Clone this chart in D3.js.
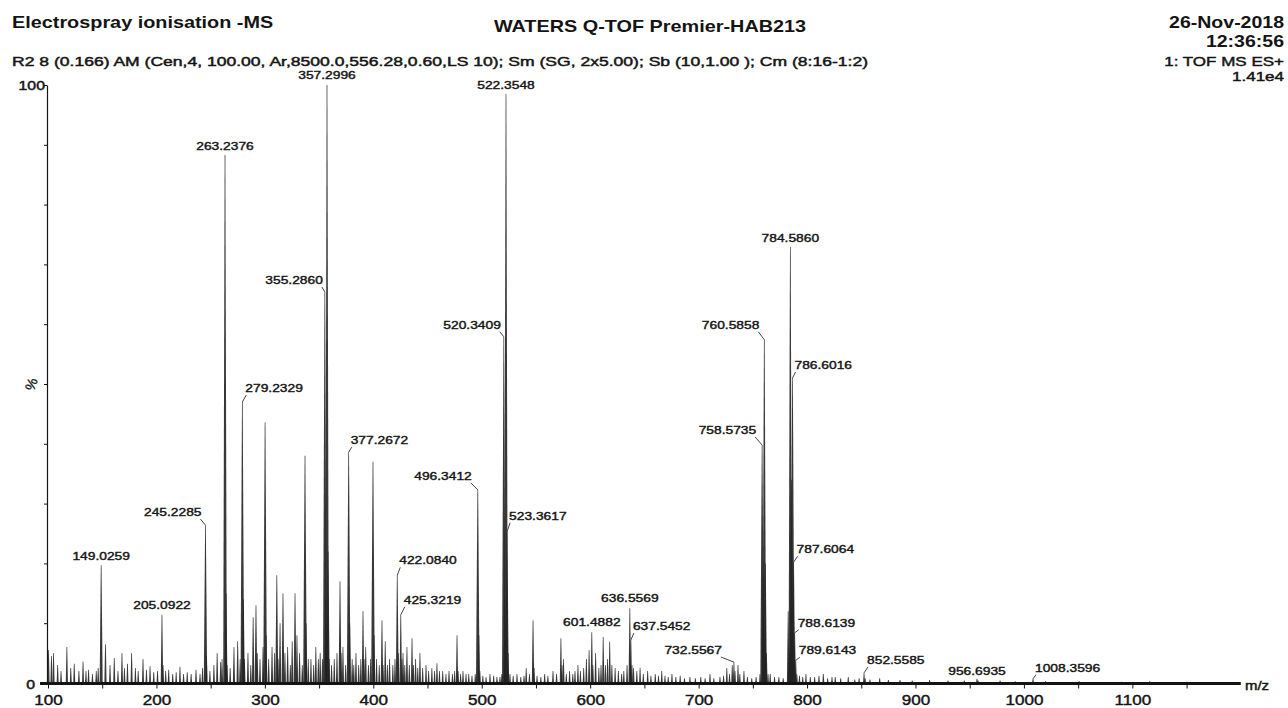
<!DOCTYPE html>
<html>
<head>
<meta charset="utf-8">
<script src="https://cdn.jsdelivr.net/npm/d3@7"></script>
<style>
  html, body { margin: 0; padding: 0; background: #fff; }
  svg { display: block; font-family: "Liberation Sans", Arial, sans-serif; }
</style>
</head>
<body>
<svg id="chart" width="1288" height="708"></svg>
<script>
// ---- Annotated peaks: m/z and relative intensity (%) ----
const labelMz  = [357.2996, 522.3548, 263.2376, 784.5860, 355.2860, 520.3409, 760.5858,
                  786.6016, 279.2329, 377.2672, 758.5735, 496.3412, 523.3617, 245.2285,
                  149.0259, 787.6064, 422.0840, 205.0922, 425.3219, 636.5569, 601.4882,
                  637.5452, 732.5567, 788.6139, 789.6143, 852.5585, 956.6935, 1008.3596];
const labelInt = [100, 98.5, 88.3, 72.9, 65.4, 57.9, 57.4,
                  51.0, 47.0, 38.6, 39.8, 32.3, 25.3, 26.4,
                  19.7, 20.2, 18.0, 11.4, 11.4, 12.5, 8.5,
                  7.2, 3.5, 8.4, 3.8, 1.7, 0.7, 0.7];

// ---- Un-annotated peaks: m/z and relative intensity (%) ----
const peakMz = [
  100.5, 103.2, 105.1, 108.9, 112.0, 117.4, 121.0, 124.2, 128.5, 132.3, 135.0, 137.4, 141.0, 144.5, 146.3,
  153.0, 157.2, 161.1, 164.5, 168.2, 170.5, 173.3, 177.1, 180.6, 183.2, 187.6, 190.8, 194.1, 197.5, 201.0,
  206.1, 208.5, 211.3, 215.0, 218.2, 221.7, 225.0, 228.4, 232.0, 236.5, 240.2, 242.5, 246.23, 249.3, 253.0,
  256.0, 259.2, 260.5, 264.24, 265.2, 268.0, 271.5, 274.9, 277.2, 280.24, 281.2, 284.4, 287.0, 289.2, 291.8,
  293.0, 295.5, 298.3, 300.2, 301.2, 303.5, 306.6, 309.0, 311.0, 312.2, 314.0, 316.7, 318.5, 321.0, 323.5,
  325.2, 327.8, 329.6, 332.0, 334.5, 337.0, 338.0, 340.0, 342.5, 345.0, 347.0, 349.3, 351.0, 353.1, 356.29,
  358.30, 359.3, 361.5, 364.0, 366.5, 369.3, 370.3, 372.0, 374.5, 378.28, 380.5, 382.0, 384.0, 386.5, 388.5,
  390.5, 391.5, 393.0, 395.5, 397.5, 399.7, 400.7, 403.0, 405.5, 408.0, 409.0, 411.0, 413.0, 415.0, 418.0,
  420.0, 423.09, 426.3, 427.4, 429.0, 431.0, 433.2, 435.7, 437.0, 439.0, 441.0, 443.0, 445.5, 448.6, 451.0,
  454.0, 456.5, 458.7, 461.0, 464.0, 467.0, 469.8, 473.0, 475.0, 477.2, 478.2, 480.5, 482.7, 485.5, 488.0,
  491.0, 494.0, 497.34, 498.3, 501.0, 504.0, 507.6, 511.0, 514.0, 516.8, 518.5, 521.34, 524.36, 526.0, 529.0,
  532.5, 536.0, 539.0, 541.0, 544.0, 547.3, 548.3, 551.0, 554.5, 558.0, 561.0, 565.7, 569.0, 573.0, 574.0,
  575.4, 578.0, 581.0, 584.0, 586.0, 588.7, 591.0, 594.0, 596.5, 599.0, 602.49, 605.0, 608.0, 610.0, 612.0,
  614.0, 616.0, 618.0, 620.0, 623.0, 626.0, 629.0, 631.0, 634.0, 638.55, 640.0, 643.0, 646.0, 649.0, 653.0,
  656.0, 660.0, 663.0, 666.0, 669.0, 672.0, 675.4, 679.0, 683.0, 687.0, 692.0, 697.0, 702.0, 706.0, 710.5,
  714.0, 719.7, 723.0, 726.0, 728.5, 731.0, 733.56, 736.3, 738.0, 741.8, 745.0, 749.0, 753.0, 756.6, 759.58,
  761.59, 762.6, 764.0, 766.0, 770.0, 774.0, 778.0, 782.58, 783.58, 785.59, 790.6, 793.0, 796.0, 799.0, 803.0,
  807.0, 811.0, 815.0, 819.0, 823.0, 826.0, 831.0, 838.0, 844.0, 848.0, 853.56, 858.0, 867.0, 875.0, 885.7,
  897.0, 913.0, 930.0, 945.0, 957.7, 978.0, 992.0, 1020.0, 1051.0, 1090.0, 1116.0, 1150.0
];
const peakInt = [
  5.5, 4.5, 5, 3, 2, 6, 2.5, 3.2, 2, 3.6, 2, 2.2, 1.5, 2, 2.5,
  6.5, 3, 4.2, 2, 5, 2.5, 3.2, 5, 2.5, 2, 4, 2.2, 2.8, 1.8, 2,
  3, 2, 2.2, 1.5, 1.8, 2.7, 1.5, 1.8, 1.5, 2.2, 1.5, 2.5, 4.5, 2, 3,
  5, 3.5, 4, 15, 3, 2.5, 6, 7, 4, 14, 4, 5, 3, 11, 13,
  5, 4, 6, 43.6, 8, 4, 6, 5, 18, 4, 10, 15, 5, 6, 3,
  7, 15, 8, 5, 3, 38, 10, 4, 4, 3, 6, 4, 5, 4, 14,
  22, 4, 3, 4, 5, 17, 5, 6, 3, 10, 4, 3, 5, 3, 4,
  12, 4, 6, 3, 4, 37, 8, 4, 3, 10.5, 3, 7, 3, 4, 3,
  4, 5, 4, 5, 3, 6, 3, 7.5, 3, 4, 2.5, 5, 2.5, 3, 2,
  2.5, 2, 3.3, 2, 2, 1.5, 2, 1.5, 2, 8, 2, 1.5, 2, 1.5, 1.5,
  1.2, 1.5, 8, 2, 1.2, 1, 1.5, 1.2, 1, 1, 1.5, 14, 5, 1.5, 1.2,
  1.5, 1, 1.2, 2.5, 1.5, 10.5, 2.5, 1.2, 1, 1.5, 1.2, 2, 1.5, 7.5, 3,
  4, 1.5, 2, 1.5, 2, 3, 2, 2.5, 4, 5.5, 3, 5, 2.5, 3, 7.7,
  3, 4, 6.9, 3, 2.5, 2, 1.5, 2, 3, 3, 2.5, 2, 2.5, 1.5, 2,
  1.2, 1.5, 1.2, 2, 1.2, 1, 1.5, 1, 1.2, 0.8, 1, 0.8, 1, 0.8, 1.5,
  0.8, 1, 1.2, 2.5, 1.5, 3, 2, 3, 1.5, 2, 1, 0.8, 1, 1.5, 18,
  20, 5, 1.5, 1.5, 1, 1, 0.8, 12, 5, 34, 1.5, 1.2, 1, 1.5, 1,
  1, 1.2, 1.5, 0.8, 1, 1, 0.8, 1, 0.6, 0.8, 0.8, 0.6, 0.8, 0.5, 0.5,
  0.4, 0.5, 0.4, 0.4, 0.4, 0.4, 0.3, 0.3, 0.3, 0.2, 0.3, 0.2
];

// ---- Axis ticks ----
const xTickLabels = [100, 200, 300, 400, 500, 600, 700, 800, 900, 1000, 1100];
const xMinorTicks = [150, 250, 350, 450, 550, 650, 750, 850, 950, 1050, 1150];
const yTicks = [0, 10, 20, 30, 40, 50, 60, 70, 80, 90, 100];

// ---- Label placement: side (c = centred, l = left, r = right), x offset, y offset (px) ----
const labelLayout = [
  ["c", 0, -6], ["c", 0, -5], ["c", 0, -5], ["c", 0, -5], ["l", -2, -8], ["l", -3, -8], ["l", -5, -11],
  ["r", 2, -9], ["r", 3, -10], ["r", 2, -8], ["l", -6, -11], ["l", -6, -10], ["r", 2, -12], ["l", -4, -9],
  ["c", 0, -5], ["r", 3, -9], ["r", 2, -11], ["c", 0, -6], ["r", 3, -11], ["c", 0, -6], ["c", 0, -6],
  ["r", 2, -10], ["l", -12, -8], ["r", 3, -6], ["r", 3, -6], ["r", 3, -9], ["c", 0, -4], ["r", 2, -7]
];

const svg = d3.select("#chart");
const INK = "#141414";
const SX = 1.22; // horizontal text stretch of the instrument printout

const x = d3.scaleLinear().domain([100, 1200]).range([48, 1240.8]);
const y = d3.scaleLinear().domain([0, 100]).range([683, 85]);

function txt(str, tx, ty, size, anchor, weight, sx, extra) {
  const t = svg.append("text")
    .attr("transform", `translate(${tx},${ty}) scale(${sx},1)`)
    .attr("text-anchor", anchor)
    .attr("font-size", size)
    .attr("font-weight", weight)
    .attr("fill", INK)
    .text(str);
  if (extra) extra(t);
  return t;
}
const thicken = t => t.attr("stroke", INK).attr("stroke-width", 0.45);

// ---- Header ----
txt("Electrospray ionisation -MS", 12, 28, 16, "start", "bold", 1.24);
txt("WATERS Q-TOF Premier-HAB213", 650, 32, 16, "middle", "bold", 1.24);
txt("26-Nov-2018", 1284, 28, 16, "end", "bold", 1.22);
txt("12:36:56", 1284, 47, 16, "end", "bold", 1.22);
txt("R2 8 (0.166) AM (Cen,4, 100.00, Ar,8500.0,556.28,0.60,LS 10); Sm (SG, 2x5.00); Sb (10,1.00 ); Cm (8:16-1:2)",
    12, 66, 12.5, "start", "normal", 1.0, t => { thicken(t); t.attr("textLength", 856).attr("lengthAdjust", "spacingAndGlyphs"); });
txt("1: TOF MS ES+", 1284, 66, 13.5, "end", "normal", 1.26, thicken);
txt("1.41e4", 1284, 81, 13.5, "end", "normal", 1.26, thicken);

// ---- Y axis ----
const yAxis = svg.append("g")
  .attr("transform", `translate(${x(100) - 1},0)`)
  .call(d3.axisLeft(y).tickValues(yTicks).tickSize(3).tickSizeOuter(0).tickFormat(""));
yAxis.select(".domain").attr("stroke", INK).attr("stroke-width", 1.2);
yAxis.selectAll(".tick line").attr("stroke", INK).attr("stroke-width", 1);

txt("100", 45, 90, 13, "end", "normal", SX, thicken);
txt("0", 35, 689, 13, "end", "normal", SX, thicken);
svg.append("text")
  .attr("transform", `translate(36,386) rotate(-70)`)
  .attr("text-anchor", "middle").attr("font-size", 14).attr("fill", INK)
  .attr("stroke", INK).attr("stroke-width", 0.3)
  .text("%");

// ---- Peaks (profile spikes) ----
const peaks = labelMz.map((m, i) => ({ mz: m, v: labelInt[i] }))
  .concat(peakMz.map((m, i) => ({ mz: m, v: peakInt[i] })))
  .sort((a, b) => a.mz - b.mz);

function spike(d) {
  const cx = x(d.mz), top = y(d.v), base = y(0);
  const hw = 0.9 + Math.min(1, d.v / 30) * 0.9;
  return `M${cx - hw},${base}L${cx - 0.35},${top}L${cx + 0.35},${top}L${cx + hw},${base}Z`;
}
svg.append("g").selectAll("path").data(peaks).join("path")
  .attr("d", spike)
  .attr("fill", "#222")
  .attr("fill-opacity", 0.9);

// ---- X axis (baseline, ticks, labels) ----
svg.append("line")
  .attr("x1", x(100) - 8).attr("x2", x(1200))
  .attr("y1", y(0) + 0.5).attr("y2", y(0) + 0.5)
  .attr("stroke", INK).attr("stroke-width", 3);

const xMinor = svg.append("g")
  .attr("transform", `translate(0,${y(0) + 1.5})`)
  .call(d3.axisBottom(x).tickValues(xMinorTicks.concat(xTickLabels)).tickSize(4).tickSizeOuter(0).tickFormat(""));
xMinor.select(".domain").remove();
xMinor.selectAll(".tick line").attr("stroke", INK).attr("stroke-width", 1);

const xLab = svg.append("g")
  .attr("transform", `translate(0,${y(0)})`)
  .call(d3.axisBottom(x).tickValues(xTickLabels).tickSize(0).tickPadding(0).tickFormat(d3.format("d")));
xLab.select(".domain").remove();
xLab.selectAll(".tick text")
  .attr("y", 22).attr("dy", null)
  .attr("font-size", 14)
  .attr("font-family", "Liberation Sans, Arial, sans-serif")
  .attr("fill", INK).attr("stroke", INK).attr("stroke-width", 0.4)
  .attr("transform", `scale(${SX},1)`);

txt("m/z", 1245, 690, 13, "start", "normal", 1.15, thicken);

// ---- Peak annotations with leaders ----
const ann = svg.append("g");
labelMz.forEach((m, i) => {
  const [side, dx, dy] = labelLayout[i];
  const px = x(m), py = y(labelInt[i]);
  const lx = px + dx, ly = py + dy;
  const anchor = side === "c" ? "middle" : side === "l" ? "end" : "start";
  ann.append("text")
    .attr("transform", `translate(${lx},${ly}) scale(1.2,1)`)
    .attr("text-anchor", anchor)
    .attr("font-size", 11.5)
    .attr("fill", INK).attr("stroke", INK).attr("stroke-width", 0.4)
    .text(m.toFixed(4));
  if (side !== "c") {
    const sx0 = side === "l" ? lx - 1 : lx + 1;
    ann.append("line")
      .attr("x1", sx0).attr("y1", ly + 3)
      .attr("x2", px).attr("y2", py)
      .attr("stroke", "#444").attr("stroke-width", 1);
  }
});
</script>
</body>
</html>
